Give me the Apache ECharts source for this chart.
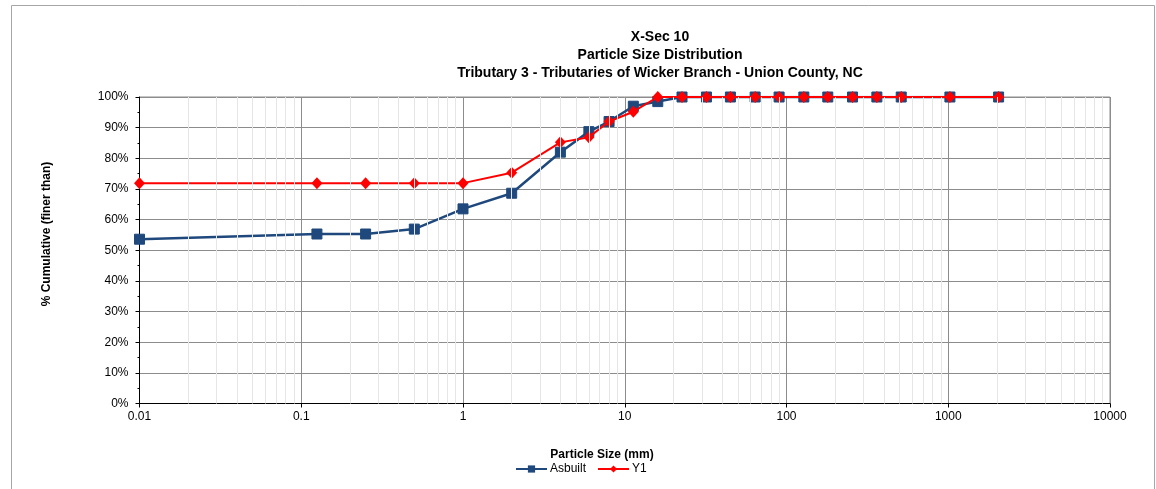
<!DOCTYPE html>
<html>
<head>
<meta charset="utf-8">
<script src="https://cdn.jsdelivr.net/npm/echarts@6/dist/echarts.min.js"></script>
<style>
html,body{margin:0;padding:0;background:#fff;}
#chart{width:1156px;height:489px;}
</style>
</head>
<body>
<div id="chart"></div>
<script>
// Particle sizes (mm)
const sizes = [0.01, 0.125, 0.25, 0.5, 1, 2, 4, 6, 8, 11.3, 16, 22.6, 32, 45, 64, 90, 128, 180, 256, 362, 512, 1024, 2048];
// % cumulative finer than
const asbuilt = [53.6, 55.3, 55.3, 56.9, 63.5, 68.6, 82.0, 88.7, 92.0, 97.0, 98.5, 100, 100, 100, 100, 100, 100, 100, 100, 100, 100, 100, 100];
const y1 = [71.9, 71.9, 71.9, 71.9, 71.9, 75.3, 85.2, 86.9, 92.0, 95.2, 100, 100, 100, 100, 100, 100, 100, 100, 100, 100, 100, 100, 100];
const yTicks = [0, 10, 20, 30, 40, 50, 60, 70, 80, 90, 100];
const xTickLabels = ['0.01', '0.1', '1', '10', '100', '1000', '10000'];

// minor log gridline positions (2..9 within each decade)
const minorX = [];
for (let d = -2; d < 4; d++) {
  for (let k = 2; k <= 9; k++) minorX.push(k * Math.pow(10, d));
}

const font = 'Liberation Sans, Arial, sans-serif';
const chart = echarts.init(document.getElementById('chart'));
const option = {
  animation: false,
  backgroundColor: '#fff',
  title: [{
    text: 'X-Sec 10\nParticle Size Distribution\nTributary 3 - Tributaries of Wicker Branch - Union County, NC',
    left: 655, top: 23, textAlign: 'center',
    textStyle: {fontFamily: font, fontSize: 14, fontWeight: 'bold', color: '#000', lineHeight: 18}
  }, {
    text: 'Particle Size (mm)',
    left: 597, top: 444, textAlign: 'center',
    textStyle: {fontFamily: font, fontSize: 12, fontWeight: 'bold', color: '#000'}
  }],
  graphic: [{
    type: 'rect', shape: {x: 11.5, y: 5.5, width: 1143, height: 490},
    style: {fill: 'none', stroke: '#a6a6a6', lineWidth: 1}, silent: true, z: -10
  }, {
    type: 'text', x: 47, y: 234, rotation: Math.PI / 2,
    style: {text: '% Cumulative (finer than)', font: 'bold 12px ' + font, fill: '#000', align: 'center', verticalAlign: 'middle'}
  }],
  legend: {
    top: 458, left: 510,
    itemWidth: 31, itemHeight: 9, itemGap: 11,
    textStyle: {fontFamily: font, fontSize: 12, color: '#000', padding: [0, 0, 0, -2]},
    data: ['Asbuilt', 'Y1']
  },
  grid: {left: 139.5, right: 46, top: 97, bottom: 85.5, show: true, borderColor: '#8c8c8c', borderWidth: 1},
  xAxis: {
    type: 'log', logBase: 10, min: 0.01, max: 10000,
    axisLine: {show: true, lineStyle: {color: '#000', width: 1}},
    axisTick: {show: true, length: 4, lineStyle: {color: '#000'}},
    axisLabel: {
      fontFamily: font, fontSize: 12, color: '#000', margin: 7,
      formatter: function (v) {
        const p = Math.round(Math.log10(v));
        return xTickLabels[p + 2] !== undefined ? xTickLabels[p + 2] : '';
      }
    },
    splitLine: {show: true, lineStyle: {color: '#8c8c8c', width: 1}}
  },
  yAxis: {
    type: 'value', min: yTicks[0], max: yTicks[yTicks.length - 1], interval: 10,
    axisLine: {show: true, lineStyle: {color: '#000', width: 1}},
    axisTick: {show: true, length: 4, lineStyle: {color: '#000'}},
    minorTick: {show: true, splitNumber: 2, length: 2, lineStyle: {color: '#000'}},
    axisLabel: {fontFamily: font, fontSize: 12, color: '#000', margin: 11, formatter: '{value}%'},
    splitLine: {show: true, lineStyle: {color: '#8c8c8c', width: 1}}
  },
  series: [{
    name: 'minor',
    type: 'line', data: [], z: 1, silent: true,
    markLine: {
      silent: true, symbol: 'none', label: {show: false},
      lineStyle: {color: '#e6e6e6', width: 1, type: 'solid'},
      data: minorX.map(v => ({xAxis: v}))
    }
  }, {
    name: 'Asbuilt', type: 'line', z: 3,
    data: sizes.map((s, i) => [s, asbuilt[i]]),
    symbol: 'rect', symbolSize: 10,
    itemStyle: {color: '#1F497D', borderColor: '#1F497D'},
    lineStyle: {color: '#1F497D', width: 2.5}
  }, {
    name: 'Y1', type: 'line', z: 4,
    data: sizes.map((s, i) => [s, y1[i]]),
    symbol: 'diamond', symbolSize: [11, 12],
    itemStyle: {color: '#FF0000'},
    lineStyle: {color: '#FF0000', width: 2}
  }]
};
chart.setOption(option);
</script>
</body>
</html>
